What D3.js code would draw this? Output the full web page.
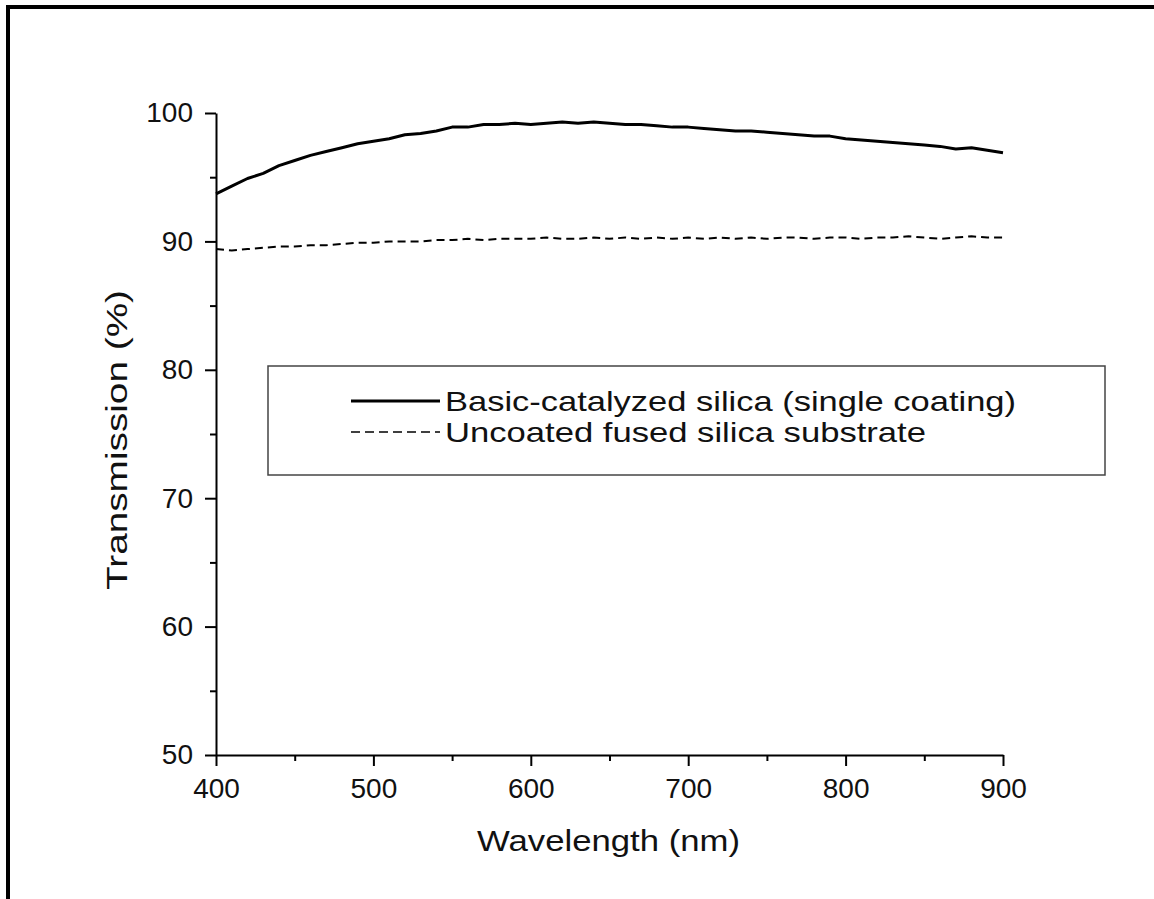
<!DOCTYPE html>
<html>
<head>
<meta charset="utf-8">
<script src="https://cdn.jsdelivr.net/npm/d3@7"></script>
<style>
  body { margin: 0; background: #fff; }
  #chart { width: 1154px; height: 899px; }
  text { font-family: "Liberation Sans", Arial, sans-serif; fill: #111; }
</style>
</head>
<body>
<div id="chart"></div>
<script>
// Wavelength grid (nm), one reading every 10 nm
var wavelengths = d3.range(400, 901, 10);

// Basic-catalyzed silica (single coating), % transmission
var coated = [
  93.7, 94.3, 94.9, 95.3, 95.9, 96.3, 96.7, 97.0, 97.3, 97.6,
  97.8, 98.0, 98.3, 98.4, 98.6, 98.9, 98.9, 99.1, 99.1, 99.2,
  99.1, 99.2, 99.3, 99.2, 99.3, 99.2, 99.1, 99.1, 99.0, 98.9,
  98.9, 98.8, 98.7, 98.6, 98.6, 98.5, 98.4, 98.3, 98.2, 98.2,
  98.0, 97.9, 97.8, 97.7, 97.6, 97.5, 97.4, 97.2, 97.3, 97.1,
  96.9
];

// Uncoated fused silica substrate, % transmission
var uncoated = [
  89.4, 89.3, 89.4, 89.5, 89.6, 89.6, 89.7, 89.7, 89.8, 89.9,
  89.9, 90.0, 90.0, 90.0, 90.1, 90.1, 90.2, 90.1, 90.2, 90.2,
  90.2, 90.3, 90.2, 90.2, 90.3, 90.2, 90.3, 90.2, 90.3, 90.2,
  90.3, 90.2, 90.3, 90.2, 90.3, 90.2, 90.3, 90.3, 90.2, 90.3,
  90.3, 90.2, 90.3, 90.3, 90.4, 90.3, 90.2, 90.3, 90.4, 90.3,
  90.3
];

var seriesNames = ["Basic-catalyzed silica (single coating)", "Uncoated fused silica substrate"];
var xTicks = [400, 500, 600, 700, 800, 900];
var xMinor = [450, 550, 650, 750, 850];
var yTicks = [50, 60, 70, 80, 90, 100];
var yMinor = [55, 65, 75, 85, 95];

var width = 1154, height = 899;
var svg = d3.select("#chart").append("svg")
    .attr("width", width)
    .attr("height", height);

// Outer frame (cut off on the right and bottom)
svg.append("path")
    .attr("d", "M8,905 L8,7 L1160,7")
    .attr("fill", "none")
    .attr("stroke", "#000")
    .attr("stroke-width", 4);

// Scales
var x = d3.scaleLinear().domain([400, 900]).range([216, 1003]);
var y = d3.scaleLinear().domain([50, 100]).range([755, 113]);

// Axes
svg.append("g")
    .attr("transform", "translate(0," + y(50) + ")")
    .call(d3.axisBottom(x).tickValues(xTicks).tickSize(11).tickSizeOuter(0).tickPadding(12));
svg.append("g")
    .attr("transform", "translate(0," + y(50) + ")")
    .call(d3.axisBottom(x).tickValues(xMinor).tickSize(6).tickSizeOuter(0).tickFormat(""))
    .select(".domain").remove();

svg.append("g")
    .attr("transform", "translate(" + x(400) + ",0)")
    .call(d3.axisLeft(y).tickValues(yTicks).tickSize(11).tickSizeOuter(0).tickPadding(12));
svg.append("g")
    .attr("transform", "translate(" + x(400) + ",0)")
    .call(d3.axisLeft(y).tickValues(yMinor).tickSize(6).tickSizeOuter(0).tickFormat(""))
    .select(".domain").remove();

svg.selectAll(".domain, .tick line")
    .attr("stroke", "#000")
    .attr("stroke-width", 2);
svg.selectAll(".tick text")
    .attr("fill", "#111")
    .style("font-family", "'Liberation Sans', Arial, sans-serif")
    .style("font-size", "28px");

// Lines
var line = d3.line()
    .x(function(d) { return x(d[0]); })
    .y(function(d) { return y(d[1]); });

svg.append("path")
    .datum(wavelengths.map(function(w, i) { return [w, uncoated[i]]; }))
    .attr("fill", "none")
    .attr("stroke", "#000")
    .attr("stroke-width", 2)
    .attr("stroke-dasharray", "8,5")
    .attr("d", line);

svg.append("path")
    .datum(wavelengths.map(function(w, i) { return [w, coated[i]]; }))
    .attr("fill", "none")
    .attr("stroke", "#000")
    .attr("stroke-width", 3)
    .attr("stroke-linejoin", "round")
    .attr("d", line);

// Axis titles (glyphs stretched a little, as in the original)
svg.append("text")
    .attr("x", 477)
    .attr("y", 851)
    .attr("textLength", 263)
    .attr("lengthAdjust", "spacingAndGlyphs")
    .style("font-size", "30px")
    .text("Wavelength (nm)");

svg.append("text")
    .attr("transform", "translate(127,440) rotate(-90)")
    .attr("text-anchor", "middle")
    .attr("textLength", 300)
    .attr("lengthAdjust", "spacingAndGlyphs")
    .style("font-size", "29px")
    .text("Transmission (%)");

// Legend
var legend = svg.append("g").attr("id", "legend");
legend.append("rect")
    .attr("x", 268)
    .attr("y", 366)
    .attr("width", 837)
    .attr("height", 109)
    .attr("fill", "#fff")
    .attr("stroke", "#444")
    .attr("stroke-width", 1.5);

var legendRows = [
    { name: seriesNames[0], y: 401, dash: null, sw: 3, len: 571 },
    { name: seriesNames[1], y: 432, dash: "9,5", sw: 1.5, len: 481 }
];
legendRows.forEach(function(r) {
    legend.append("line")
        .attr("x1", 351).attr("x2", 440)
        .attr("y1", r.y).attr("y2", r.y)
        .attr("stroke", "#000")
        .attr("stroke-width", r.sw)
        .attr("stroke-dasharray", r.dash);
    legend.append("text")
        .attr("x", 445)
        .attr("y", r.y + 10)
        .attr("textLength", r.len)
        .attr("lengthAdjust", "spacingAndGlyphs")
        .style("font-size", "28px")
        .text(r.name);
});
</script>
</body>
</html>
